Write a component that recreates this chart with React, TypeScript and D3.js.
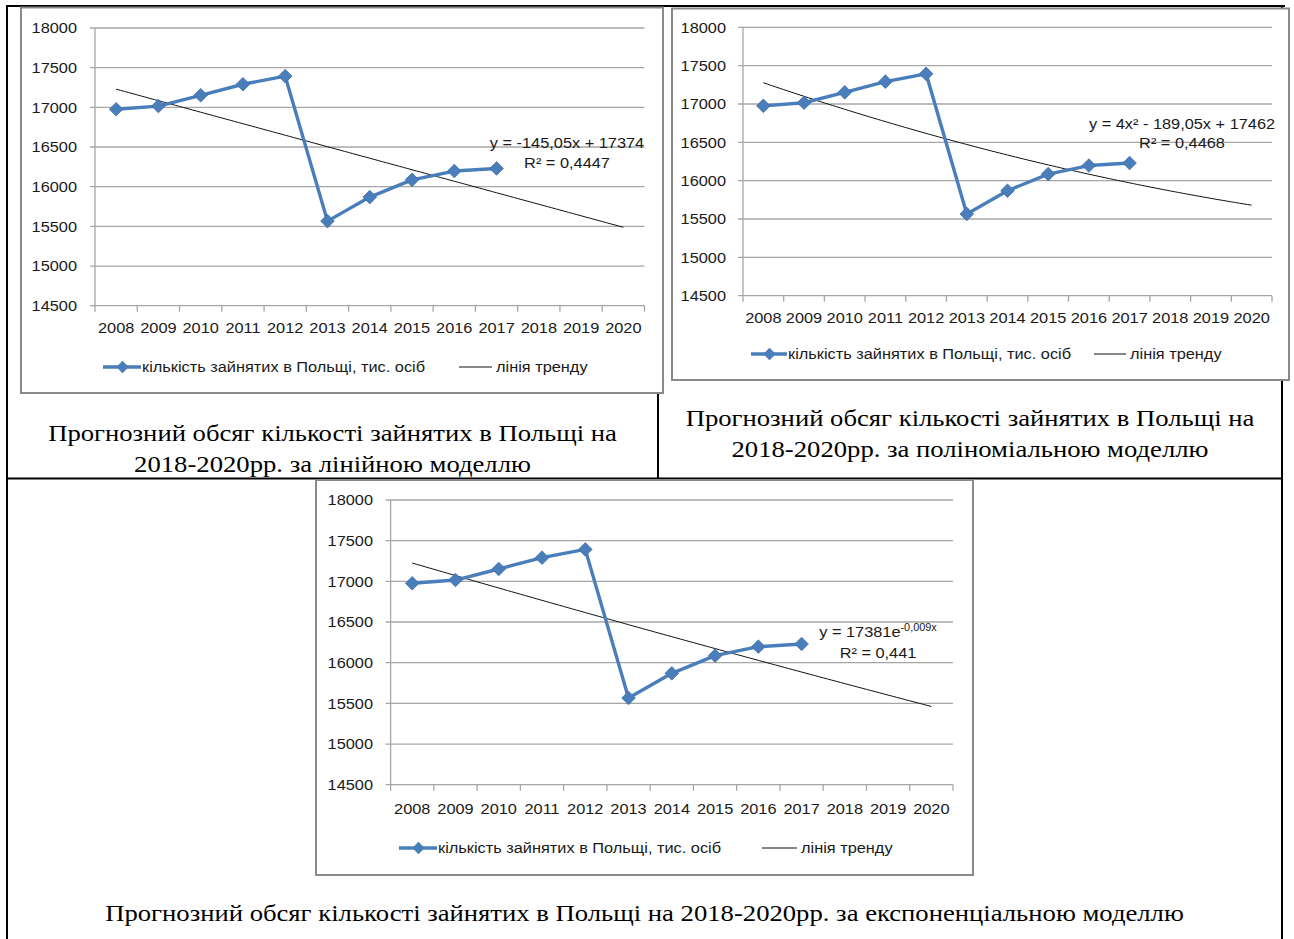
import React from 'react';
import * as d3 from 'd3';

// Employment in Poland, thousands of persons, 2008–2017; axis runs to 2020 for the forecast
const years = ['2008', '2009', '2010', '2011', '2012', '2013', '2014', '2015', '2016', '2017', '2018', '2019', '2020'];
const employed = [16976, 17016, 17152, 17291, 17393, 15566, 15869, 16086, 16197, 16230];
const yTicks = [14500, 15000, 15500, 16000, 16500, 17000, 17500, 18000];

// Trend models (x = 1 for 2008 … 13 for 2020)
const linearCoef = { slope: -145.05, intercept: 17374 };
const polyCoef = { a: 4, b: -189.05, c: 17462 };
const expCoef = { a: 17381, k: -0.009 };

const seriesLabel = 'кількість зайнятих в Польщі, тис. осіб';
const trendLabel = 'лінія тренду';

const captions = {
  linear: ['Прогнозний обсяг кількості зайнятих в Польщі на', '2018-2020рр. за лінійною моделлю'],
  poly: ['Прогнозний обсяг кількості зайнятих в Польщі на', '2018-2020рр. за поліноміальною моделлю'],
  exp: ['Прогнозний обсяг кількості зайнятих в Польщі на 2018-2020рр. за експоненціальною моделлю'],
};

const BLUE = '#4a7ebb';
const GRID = '#a6a6a6';
const CHART_FONT = '"Liberation Sans", Arial, sans-serif';
const SERIF = '"Liberation Serif", "Times New Roman", serif';
const CHART_SX = 1.09; // horizontal widening of chart lettering
const CAPTION_SX = 1.16; // horizontal widening of caption lettering

type TextProps = {
  x: number;
  y: number;
  sx: number;
  anchor?: 'start' | 'middle' | 'end';
  dy?: string;
  fontSize?: number;
  children: React.ReactNode;
};

// Text drawn with a horizontal stretch about its anchor point
function SText({ x, y, sx, anchor = 'start', dy, fontSize, children }: TextProps) {
  return (
    <text transform={`translate(${x},${y}) scale(${sx},1)`} textAnchor={anchor} dy={dy} fontSize={fontSize}>
      {children}
    </text>
  );
}

type Layout = {
  frame: { x0: number; x1: number; y0: number; y1: number };
  plot: { x0: number; x1: number; y0: number; y1: number };
  yLabelRight: number;
  xLabelY: number;
  legendY: number;
  legend: { line0: number; text0: number; trend0: number; trendText: number };
  eq: { cx: number; y1: number; y2: number };
};

type ChartProps = {
  layout: Layout;
  trend: (x: number) => number;
  equation: React.ReactNode;
  r2: string;
};

function Chart({ layout, trend, equation, r2 }: ChartProps) {
  const { frame, plot } = layout;
  const x = d3.scaleBand<string>().domain(years).range([plot.x0, plot.x1]).padding(0);
  const y = d3.scaleLinear().domain([14500, 18000]).range([plot.y1, plot.y0]);
  const bw = x.bandwidth();
  const cx = (i: number) => (x(years[i]) as number) + bw / 2;
  const idx = d3.scaleLinear().domain([1, years.length]).range([cx(0), cx(years.length - 1)]);

  const pts = employed.map((v, i) => [cx(i), y(v)] as [number, number]);
  const seriesPath = d3.line()(pts) || '';
  const trendPts = d3.range(1, years.length + 0.001, 0.1).map((t) => [idx(t), y(trend(t))] as [number, number]);
  const trendPath = d3.line()(trendPts) || '';
  const diamond = (px: number, py: number, r: number) =>
    `M${px},${py - r}L${px + r},${py}L${px},${py + r}L${px - r},${py}Z`;

  const boundaries = d3.range(years.length + 1).map((i) => plot.x0 + i * bw);

  return (
    <g fontFamily={CHART_FONT} fill="#1a1a1a" fontSize={15}>
      <rect
        x={frame.x0}
        y={frame.y0}
        width={frame.x1 - frame.x0}
        height={frame.y1 - frame.y0}
        fill="#fff"
        stroke="#8a8a8a"
        strokeWidth={2}
      />
      {yTicks.map((t) => (
        <g key={t}>
          <line x1={plot.x0 - 5} x2={plot.x1} y1={y(t)} y2={y(t)} stroke={GRID} strokeWidth={1.3} />
          <SText x={layout.yLabelRight} y={y(t)} dy="0.35em" anchor="end" sx={CHART_SX}>
            {t}
          </SText>
        </g>
      ))}
      <line x1={plot.x0} x2={plot.x0} y1={plot.y0} y2={plot.y1} stroke={GRID} strokeWidth={1.3} />
      {boundaries.map((bx, i) => (
        <line key={i} x1={bx} x2={bx} y1={plot.y1} y2={plot.y1 + 6} stroke={GRID} strokeWidth={1.3} />
      ))}
      {years.map((yr, i) => (
        <SText key={yr} x={cx(i)} y={layout.xLabelY} dy="0.35em" anchor="middle" sx={CHART_SX}>
          {yr}
        </SText>
      ))}
      <path d={trendPath} fill="none" stroke="#111" strokeWidth={1} />
      <path d={seriesPath} fill="none" stroke={BLUE} strokeWidth={3.4} strokeLinejoin="round" />
      {pts.map(([px, py], i) => (
        <path key={i} d={diamond(px, py, 6.8)} fill={BLUE} stroke="#3d6fa8" strokeWidth={0.8} />
      ))}
      <SText x={layout.eq.cx} y={layout.eq.y1} dy="0.35em" anchor="middle" sx={CHART_SX}>
        {equation}
      </SText>
      <SText x={layout.eq.cx} y={layout.eq.y2} dy="0.35em" anchor="middle" sx={CHART_SX}>
        {r2}
      </SText>
      {/* legend */}
      <line
        x1={layout.legend.line0}
        x2={layout.legend.text0 - 1}
        y1={layout.legendY}
        y2={layout.legendY}
        stroke={BLUE}
        strokeWidth={3.4}
      />
      <path d={diamond((layout.legend.line0 + layout.legend.text0) / 2, layout.legendY, 6.2)} fill={BLUE} />
      <SText x={layout.legend.text0} y={layout.legendY} dy="0.35em" sx={CHART_SX}>
        {seriesLabel}
      </SText>
      <line
        x1={layout.legend.trend0}
        x2={layout.legend.trendText - 4}
        y1={layout.legendY}
        y2={layout.legendY}
        stroke="#111"
        strokeWidth={1}
      />
      <SText x={layout.legend.trendText} y={layout.legendY} dy="0.35em" sx={CHART_SX}>
        {trendLabel}
      </SText>
    </g>
  );
}

const linearLayout: Layout = {
  frame: { x0: 21, x1: 663, y0: 7.5, y1: 393 },
  plot: { x0: 95, x1: 644.5, y0: 28, y1: 305.7 },
  yLabelRight: 77,
  xLabelY: 328,
  legendY: 367,
  legend: { line0: 103, text0: 142, trend0: 459, trendText: 496 },
  eq: { cx: 567, y1: 143, y2: 163 },
};

const polyLayout: Layout = {
  frame: { x0: 672, x1: 1289, y0: 8.5, y1: 380 },
  plot: { x0: 743, x1: 1272, y0: 27.3, y1: 295.7 },
  yLabelRight: 726,
  xLabelY: 318,
  legendY: 354,
  legend: { line0: 751, text0: 788, trend0: 1094, trendText: 1130 },
  eq: { cx: 1182, y1: 124, y2: 143 },
};

const expLayout: Layout = {
  frame: { x0: 316, x1: 973, y0: 480, y1: 875 },
  plot: { x0: 390.6, x1: 953, y0: 500, y1: 784.7 },
  yLabelRight: 373,
  xLabelY: 809,
  legendY: 848,
  legend: { line0: 399, text0: 438, trend0: 762, trendText: 801 },
  eq: { cx: 878, y1: 632, y2: 653 },
};

const linearTrend = (t: number) => linearCoef.slope * t + linearCoef.intercept;
const polyTrend = (t: number) => polyCoef.a * t * t + polyCoef.b * t + polyCoef.c;
const expTrend = (t: number) => expCoef.a * Math.exp(expCoef.k * t);

const fmt = (v: number) => String(v).replace('.', ',');

export default function App() {
  const W = 1294;
  const H = 939;
  const left = 7;
  const right = 1282;
  const top = 6;
  const mid = 658;
  const rowY = 478.5;

  return (
    <div style={{ position: 'absolute', left: 0, top: 0, background: '#fff' }}>
      <svg width={W} height={H} style={{ display: 'block' }}>
        <rect width={W} height={H} fill="#fff" />
        {/* table cell borders */}
        <g stroke="#000" strokeWidth={2}>
          <line x1={left} x2={1285} y1={top} y2={top} />
          <line x1={left} x2={left} y1={top - 1} y2={H} />
          <line x1={right} x2={right} y1={top - 1} y2={H} />
          <line x1={mid} x2={mid} y1={top} y2={rowY} />
          <line x1={left} x2={right} y1={rowY} y2={rowY} />
        </g>

        <Chart
          layout={linearLayout}
          trend={linearTrend}
          equation={`y = ${fmt(linearCoef.slope)}x + ${linearCoef.intercept}`}
          r2="R² = 0,4447"
        />
        <Chart
          layout={polyLayout}
          trend={polyTrend}
          equation={`y = ${polyCoef.a}x² - ${fmt(-polyCoef.b)}x + ${polyCoef.c}`}
          r2="R² = 0,4468"
        />
        <Chart
          layout={expLayout}
          trend={expTrend}
          equation={
            <>
              {`y = ${expCoef.a}e`}
              <tspan fontSize={10} dy="-0.6em">{fmt(expCoef.k)}x</tspan>
            </>
          }
          r2="R² = 0,441"
        />

        <g fontFamily={SERIF} fontSize={23} fill="#000">
          <SText x={(left + mid) / 2} y={441} anchor="middle" sx={CAPTION_SX}>{captions.linear[0]}</SText>
          <SText x={(left + mid) / 2} y={472} anchor="middle" sx={CAPTION_SX}>{captions.linear[1]}</SText>
          <SText x={(mid + right) / 2} y={426} anchor="middle" sx={CAPTION_SX}>{captions.poly[0]}</SText>
          <SText x={(mid + right) / 2} y={457} anchor="middle" sx={CAPTION_SX}>{captions.poly[1]}</SText>
          <SText x={(left + right) / 2} y={921} anchor="middle" sx={CAPTION_SX}>{captions.exp[0]}</SText>
        </g>
      </svg>
    </div>
  );
}
